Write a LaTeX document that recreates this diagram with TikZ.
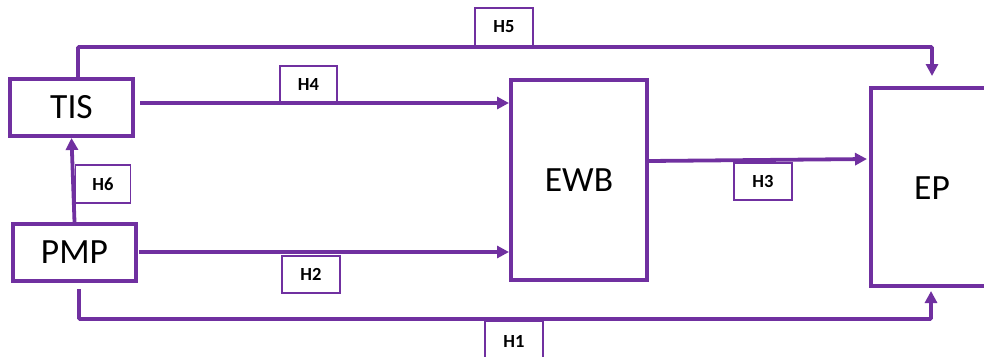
\documentclass[tikz,border=0pt]{standalone}
\usepackage{fontspec}
\setmainfont{Carlito}
\usetikzlibrary{arrows.meta}
\definecolor{pur}{HTML}{7030A0}
\begin{document}
\begin{tikzpicture}[x=1pt,y=-1pt,
  bigbox/.style={draw=pur,line width=4pt,fill=white,inner sep=0pt,font=\fontsize{35.5}{37}\selectfont},
  hbox/.style={draw=pur,line width=1.8pt,fill=white,inner sep=0pt,font=\bfseries\fontsize{18.5}{20}\selectfont},
  conn/.style={draw=pur,line width=3.8pt},
  arr/.style={conn,-{Triangle[length=12pt,width=12pt]}}]
\useasboundingbox (0,0) rectangle (984,356);
% main boxes
\node[bigbox,minimum width=123pt,minimum height=57pt] (TIS) at (71.5,107.5) {TIS};
\node[bigbox,minimum width=123pt,minimum height=57pt] (PMP) at (74.5,252.5) {PMP};
\node[bigbox,minimum width=136pt,minimum height=200pt] (EWB) at (579,180) {EWB};
\node[bigbox,minimum width=150pt,minimum height=198pt] (EPbox) at (946,187) {};
\node[font=\fontsize{35.5}{37}\selectfont,inner sep=0pt] (EP) at (932,188) {EP};
% connectors
\coordinate (h4s) at (140,103);
\coordinate (h2s) at (139,252);
\coordinate (h5) at (932,47);
\coordinate (h1) at (931,319);
\draw[arr] (PMP.north) -- (TIS.south);
\draw[arr] (h4s) -- (h4s -| EWB.west);
\draw[arr] (h2s) -- (h2s -| EWB.west);
\draw[arr,shorten >=2pt] ([yshift=19pt]EWB.east) -- ([yshift=28pt]EPbox.west);
\draw[arr,rounded corners=1pt] ([xshift=6.5pt]TIS.north) |- (h5) -- ([yshift=10pt]EPbox.north -| h5);
\draw[arr,rounded corners=1pt] ([xshift=4.5pt,yshift=-6pt]PMP.south) |- (h1) -- ([yshift=-3pt]EPbox.south -| h1);
% label boxes
\node[hbox,minimum width=58pt,minimum height=38pt] (H5) at (504,27) {H5};
\node[hbox,minimum width=57pt,minimum height=36pt] (H4) at (308.5,84) {H4};
\node[hbox,minimum width=55pt,minimum height=38pt] (H6) at (103,184) {H6};
\node[hbox,minimum width=58pt,minimum height=37pt] (H2) at (311,274.5) {H2};
\node[hbox,minimum width=58pt,minimum height=37pt] (H3) at (763,181.5) {H3};
\node[hbox,minimum width=58pt,minimum height=40pt] (H1) at (514,341) {H1};
\end{tikzpicture}
\end{document}
